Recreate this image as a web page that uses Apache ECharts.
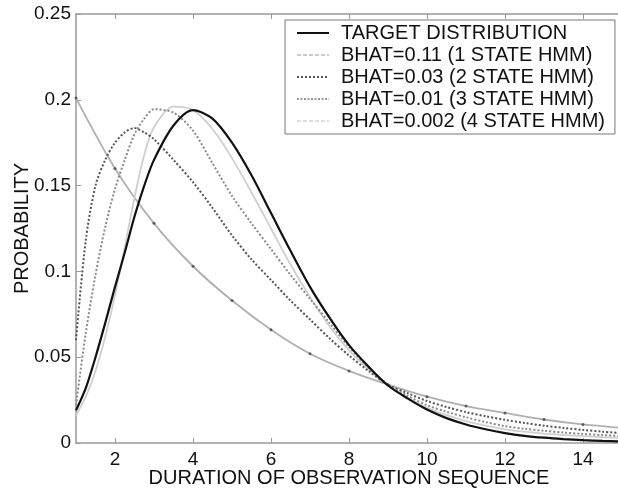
<!DOCTYPE html>
<html>
<head>
<meta charset="utf-8">
<script src="https://cdn.jsdelivr.net/npm/echarts@6/dist/echarts.min.js"></script>
<style>
  html, body { margin: 0; padding: 0; background: #fff; }
  #main { width: 618px; height: 490px; }
</style>
</head>
<body>
<div id="main"></div>
<script>
// durations (x): finer near the start where the curves bend hard
var durations = [1, 1.25, 1.5, 1.75, 2, 2.25, 2.5, 2.75, 3, 3.5, 4, 4.5, 5, 5.5, 6, 6.5, 7, 7.5, 8, 8.5, 9, 9.5, 10, 10.5, 11, 11.5, 12, 12.5, 13, 13.5, 14, 14.5, 15];
// the 1 state model is only marked at whole durations
var wholeSteps = [1, 2, 3, 4, 5, 6, 7, 8, 9, 10, 11, 12, 13, 14, 15];
var xTicks = [2, 4, 6, 8, 10, 12, 14];

var legendNames = [
  'TARGET DISTRIBUTION',
  'BHAT=0.11 (1 STATE HMM)',
  'BHAT=0.03 (2 STATE HMM)',
  'BHAT=0.01 (3 STATE HMM)',
  'BHAT=0.002 (4 STATE HMM)'
];

// values
var target = [0.019, 0.032, 0.050, 0.070, 0.091, 0.111, 0.132, 0.150, 0.165, 0.185, 0.194, 0.189, 0.175, 0.156, 0.134, 0.112, 0.091, 0.073, 0.057, 0.0445, 0.0335, 0.026, 0.0195, 0.0145, 0.0108, 0.008, 0.0058, 0.0042, 0.0031, 0.0023, 0.0017, 0.0012, 0.0009];
var hmm1 = [0.201, 0.160, 0.128, 0.103, 0.083, 0.066, 0.052, 0.042, 0.034, 0.027, 0.0215, 0.0175, 0.0137, 0.0108, 0.0088];
var hmm2 = [0.060, 0.118, 0.150, 0.165, 0.175, 0.181, 0.1835, 0.181, 0.177, 0.165, 0.152, 0.137, 0.121, 0.107, 0.095, 0.083, 0.072, 0.061, 0.051, 0.042, 0.034, 0.029, 0.0245, 0.021, 0.018, 0.0156, 0.0135, 0.0117, 0.0101, 0.0088, 0.0076, 0.0066, 0.0057];
var hmm3 = [0.022, 0.064, 0.098, 0.126, 0.148, 0.165, 0.180, 0.189, 0.1945, 0.1925, 0.182, 0.163, 0.144, 0.128, 0.113, 0.098, 0.084, 0.070, 0.056, 0.044, 0.034, 0.0275, 0.022, 0.0182, 0.015, 0.0122, 0.0098, 0.0083, 0.0071, 0.0061, 0.0053, 0.0046, 0.004];
var hmm4 = [0.016, 0.027, 0.042, 0.062, 0.086, 0.114, 0.143, 0.168, 0.184, 0.196, 0.194, 0.183, 0.166, 0.146, 0.125, 0.104, 0.085, 0.068, 0.054, 0.043, 0.0335, 0.0265, 0.0205, 0.0162, 0.0128, 0.0101, 0.008, 0.0066, 0.0055, 0.0047, 0.004, 0.0034, 0.0029];

function pairs(xs, ys) {
  var out = [];
  for (var i = 0; i < xs.length; i++) {
    out.push([xs[i], ys[i]]);
  }
  return out;
}

var chart = echarts.init(document.getElementById('main'), null, { renderer: 'canvas' });

var font = '"Liberation Sans", Arial, sans-serif';
var axisGray = '#9a9a9a';

var option = {
  animation: false,
  backgroundColor: '#fff',
  textStyle: { fontFamily: font },
  grid: {
    left: 76,
    right: -4,
    top: 14,
    bottom: 47,
    outerBoundsMode: 'none'
  },
  legend: {
    orient: 'vertical',
    left: 285,
    top: 20,
    data: [
      { name: legendNames[0] },
      { name: legendNames[1], lineStyle: { type: [4, 2], color: '#bbb', width: 1.5 } },
      { name: legendNames[2], lineStyle: { type: [2, 2], color: '#555', width: 2 } },
      { name: legendNames[3], lineStyle: { type: [2, 1.5], color: '#999', width: 2 } },
      { name: legendNames[4], lineStyle: { type: [4, 2], color: '#d4d4d4', width: 1.5 } }
    ],
    itemWidth: 32,
    itemHeight: 4,
    itemGap: 2,
    padding: [3, 10, 3, 11],
    backgroundColor: '#fff',
    borderColor: '#777',
    borderWidth: 1,
    borderRadius: 0,
    selectedMode: false,
    itemStyle: { opacity: 0 },
    textStyle: {
      fontFamily: font,
      fontSize: 20,
      color: '#111',
      lineHeight: 20,
      padding: [0, 0, 0, 7]
    }
  },
  xAxis: [
    {
      type: 'value',
      min: 1,
      max: 15,
      name: 'DURATION OF OBSERVATION SEQUENCE',
      nameLocation: 'middle',
      nameGap: 25,
      nameMoveOverlap: false,
      nameTextStyle: { fontFamily: font, fontSize: 20, color: '#111' },
      axisLine: { show: true, lineStyle: { color: axisGray, width: 1.5 } },
      axisTick: { show: true, inside: true, length: 5, customValues: xTicks, lineStyle: { color: axisGray } },
      axisLabel: { customValues: xTicks, fontFamily: font, fontSize: 19, color: '#111', margin: 7 },
      splitLine: { show: false }
    },
    {
      type: 'value',
      position: 'top',
      min: 1,
      max: 15,
      axisLine: { show: true, lineStyle: { color: axisGray, width: 1.5 } },
      axisTick: { show: true, inside: true, length: 5, customValues: xTicks, lineStyle: { color: axisGray } },
      axisLabel: { show: false },
      splitLine: { show: false }
    }
  ],
  yAxis: {
    type: 'value',
    min: 0,
    max: 0.25,
    interval: 0.05,
    name: 'PROBABILITY',
    nameLocation: 'middle',
    nameGap: 44,
    nameMoveOverlap: false,
    nameTextStyle: { fontFamily: font, fontSize: 20, color: '#111' },
    axisLine: { show: true, lineStyle: { color: axisGray, width: 1.5 } },
    axisTick: { show: true, inside: true, length: 5, lineStyle: { color: axisGray } },
    axisLabel: { fontFamily: font, fontSize: 19, color: '#111', margin: 5 },
    splitLine: { show: false }
  },
  series: [
    {
      name: legendNames[1],
      type: 'line',
      smooth: 0.3,
      symbol: 'none',
      data: pairs(wholeSteps, hmm1),
      lineStyle: { color: '#b0b0b0', width: 1.8, type: 'solid' },
      itemStyle: { color: '#b0b0b0' },
      z: 2
    },
    {
      // the small dots on the 1 state curve
      name: 'hmm1-dots',
      type: 'scatter',
      symbol: 'circle',
      symbolSize: 3,
      data: pairs(wholeSteps, hmm1),
      itemStyle: { color: '#444' },
      z: 3
    },
    {
      name: legendNames[2],
      type: 'line',
      smooth: 0.3,
      symbol: 'none',
      data: pairs(durations, hmm2),
      lineStyle: { color: '#555', width: 2, type: [2, 2] },
      itemStyle: { color: '#555' },
      z: 3
    },
    {
      name: legendNames[3],
      type: 'line',
      smooth: 0.3,
      symbol: 'none',
      data: pairs(durations, hmm3),
      lineStyle: { color: '#8a8a8a', width: 2, type: [2, 2] },
      itemStyle: { color: '#8a8a8a' },
      z: 3
    },
    {
      name: legendNames[4],
      type: 'line',
      smooth: 0.3,
      symbol: 'none',
      data: pairs(durations, hmm4),
      lineStyle: { color: '#cfcfcf', width: 1.8, type: 'solid' },
      itemStyle: { color: '#cfcfcf' },
      z: 2
    },
    {
      name: legendNames[0],
      type: 'line',
      smooth: 0.3,
      symbol: 'none',
      data: pairs(durations, target),
      lineStyle: { color: '#111', width: 2.2 },
      itemStyle: { color: '#111' },
      z: 4
    }
  ]
};

chart.setOption(option);
</script>
</body>
</html>
